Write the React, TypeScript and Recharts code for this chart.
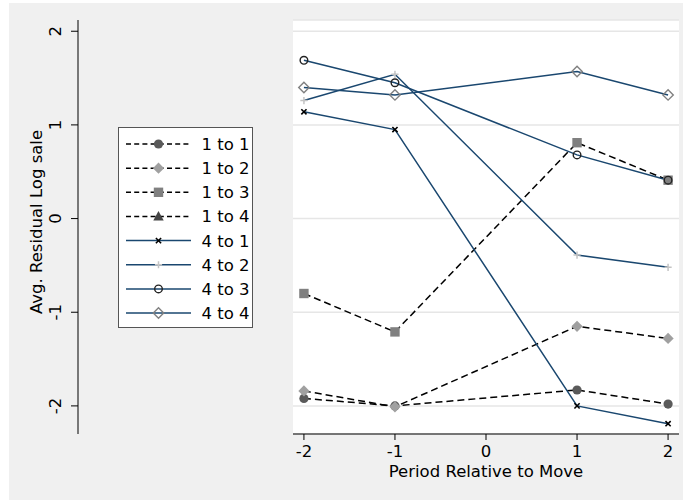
import React from "react"
import { LineChart, Line, XAxis, YAxis, CartesianGrid, Legend } from "recharts"

// Period relative to move (no observation at period 0)
const periods = [-2, -1, 1, 2]
const xTicks = [-2, -1, 0, 1, 2]
const yTicks = [-2, -1, 0, 1, 2]

// Avg. residual log sale by move type
const oneToOne = [-1.92, -2.0, -1.83, -1.98]
const oneToTwo = [-1.84, -2.01, -1.15, -1.28]
const oneToThree = [-0.8, -1.21, 0.81, 0.41]
const oneToFour: (number | null)[] = [null, null, null, null]
const fourToOne = [1.14, 0.95, -2.0, -2.19]
const fourToTwo = [1.26, 1.54, -0.39, -0.52]
const fourToThree = [1.69, 1.45, 0.68, 0.41]
const fourToFour = [1.4, 1.32, 1.57, 1.32]

const FONT = "DejaVu Sans, sans-serif"
const NAVY = "#1a476f"

type Marker = "circle" | "diamond" | "square" | "triangle" | "x" | "plus" | "ocircle" | "odiamond"

const series: { key: string; name: string; values: (number | null)[]; dashed: boolean; marker: Marker; color: string }[] = [
  { key: "s11", name: "1 to 1", values: oneToOne, dashed: true, marker: "circle", color: "#5a5a5a" },
  { key: "s12", name: "1 to 2", values: oneToTwo, dashed: true, marker: "diamond", color: "#a0a0a0" },
  { key: "s13", name: "1 to 3", values: oneToThree, dashed: true, marker: "square", color: "#808080" },
  { key: "s14", name: "1 to 4", values: oneToFour, dashed: true, marker: "triangle", color: "#444444" },
  { key: "s41", name: "4 to 1", values: fourToOne, dashed: false, marker: "x", color: "#000000" },
  { key: "s42", name: "4 to 2", values: fourToTwo, dashed: false, marker: "plus", color: "#c4c4c4" },
  { key: "s43", name: "4 to 3", values: fourToThree, dashed: false, marker: "ocircle", color: "#222222" },
  { key: "s44", name: "4 to 4", values: fourToFour, dashed: false, marker: "odiamond", color: "#808080" },
]

const data = periods.map((p, i) => {
  const row: Record<string, number | null> = { period: p }
  series.forEach((s) => {
    row[s.key] = s.values[i]
  })
  return row
})

function drawMarker(marker: Marker, cx: number, cy: number, color: string, key?: string | number) {
  switch (marker) {
    case "circle":
      return <circle key={key} cx={cx} cy={cy} r={4.6} fill={color} />
    case "diamond":
      return (
        <polygon
          key={key}
          points={`${cx},${cy - 5.6} ${cx + 5.6},${cy} ${cx},${cy + 5.6} ${cx - 5.6},${cy}`}
          fill={color}
        />
      )
    case "square":
      return <rect key={key} x={cx - 4.7} y={cy - 4.7} width={9.4} height={9.4} fill={color} />
    case "triangle":
      return (
        <polygon
          key={key}
          points={`${cx},${cy - 5.4} ${cx + 5.2},${cy + 4} ${cx - 5.2},${cy + 4}`}
          fill={color}
        />
      )
    case "x":
      return (
        <path
          key={key}
          d={`M${cx - 2.6},${cy - 2.6}L${cx + 2.6},${cy + 2.6}M${cx - 2.6},${cy + 2.6}L${cx + 2.6},${cy - 2.6}`}
          stroke={color}
          strokeWidth={1.6}
        />
      )
    case "plus":
      return (
        <path
          key={key}
          d={`M${cx - 3.6},${cy}L${cx + 3.6},${cy}M${cx},${cy - 3.6}L${cx},${cy + 3.6}`}
          stroke={color}
          strokeWidth={1.5}
        />
      )
    case "ocircle":
      return <circle key={key} cx={cx} cy={cy} r={3.8} fill="none" stroke={color} strokeWidth={1.4} />
    case "odiamond":
      return (
        <polygon
          key={key}
          points={`${cx},${cy - 5.2} ${cx + 5.2},${cy} ${cx},${cy + 5.2} ${cx - 5.2},${cy}`}
          fill="none"
          stroke={color}
          strokeWidth={1.4}
        />
      )
  }
}

function makeDot(marker: Marker, color: string) {
  return (props: any) => {
    const { cx, cy, index } = props
    if (cx == null || cy == null) return <g key={`e-${index}`} />
    return drawMarker(marker, cx, cy, color, `d-${index}`)
  }
}

function LegendBox() {
  const rowH = 24.15
  return (
    <div
      style={{
        width: 133,
        height: 199,
        background: "#fff",
        border: "1px solid #555",
        boxSizing: "content-box",
      }}
    >
      <svg width={133} height={199}>
        {series.map((s, i) => {
          const cy = 16 + i * rowH
          return (
            <g key={s.key}>
              <line
                x1={7}
                x2={72}
                y1={cy}
                y2={cy}
                stroke={s.dashed ? "#000" : NAVY}
                strokeWidth={1.5}
                strokeDasharray={s.dashed ? "5 3.2" : undefined}
              />
              {drawMarker(s.marker, 39.5, cy, s.color)}
              <text x={82.5} y={cy + 6} fontSize={16.5} fontFamily={FONT} fill="#000">
                {s.name}
              </text>
            </g>
          )
        })}
      </svg>
    </div>
  )
}

function RotatedTick({ x, y, payload }: any) {
  const bx = x - 7.5
  return (
    <text
      x={bx}
      y={y}
      transform={`rotate(-90 ${bx} ${y})`}
      textAnchor="middle"
      fontSize={16.5}
      fontFamily={FONT}
      fill="#000"
    >
      {payload.value}
    </text>
  )
}

const Y_DOMAIN: [number, number] = [-2.3, 2.12]

export default function App() {
  return (
    <div style={{ position: "absolute", left: 0, top: 0, width: 683, height: 500, background: "#fff" }}>
      <div style={{ position: "absolute", left: 9, top: 3, width: 674, height: 497, background: "#f0f0f0" }} />

      {/* detached y axis, drawn as its own chart */}
      <div style={{ position: "absolute", left: 0, top: 0 }}>
        <LineChart width={100} height={500} data={data} margin={{ top: 20, right: 0, bottom: 66, left: 0 }}>
          <XAxis dataKey="period" type="number" hide domain={[-2.12, 2.12]} />
          <YAxis
            type="number"
            domain={Y_DOMAIN}
            ticks={yTicks}
            allowDataOverflow
            width={78}
            tickSize={7}
            tickMargin={2}
            axisLine={{ stroke: "#000", strokeWidth: 1 }}
            tickLine={{ stroke: "#000", strokeWidth: 1 }}
            tick={<RotatedTick />}
            label={{
              content: ({ viewBox }: any) => {
                const lx = viewBox.x + 42
                const ly = viewBox.y + viewBox.height / 2 - 5
                return (
                  <text
                    x={lx}
                    y={ly}
                    transform={`rotate(-90 ${lx} ${ly})`}
                    textAnchor="middle"
                    fontSize={16.5}
                    fontFamily={FONT}
                    fill="#000"
                  >
                    Avg. Residual Log sale
                  </text>
                )
              },
            }}
          />
        </LineChart>
      </div>

      <div style={{ position: "absolute", left: 0, top: 0 }}>
        <LineChart width={683} height={500} data={data} margin={{ top: 20, right: 4, bottom: 0, left: 293 }}>
          <CartesianGrid vertical={false} stroke="#e6e6e6" strokeWidth={1.5} fill="#ffffff" fillOpacity={1} />
          <XAxis
            dataKey="period"
            type="number"
            domain={[-2.12, 2.12]}
            ticks={xTicks}
            allowDataOverflow
            height={66}
            tickSize={6}
            tickMargin={5}
            axisLine={{ stroke: "#000", strokeWidth: 1 }}
            tickLine={{ stroke: "#000", strokeWidth: 1 }}
            tick={{ fontSize: 16.5, fill: "#000", fontFamily: FONT }}
            label={{
              value: "Period Relative to Move",
              position: "insideTop",
              offset: 31,
              fontSize: 16.5,
              fill: "#000",
              fontFamily: FONT,
            }}
          />
          <YAxis hide type="number" domain={Y_DOMAIN} ticks={yTicks} allowDataOverflow />
          {series.map((s) => (
            <Line
              key={s.key}
              dataKey={s.key}
              name={s.name}
              type="linear"
              stroke={s.dashed ? "#000" : NAVY}
              strokeWidth={1.5}
              strokeDasharray={s.dashed ? "7 4" : undefined}
              dot={makeDot(s.marker, s.color)}
              activeDot={false}
              isAnimationActive={false}
            />
          ))}
          <Legend
            layout="horizontal"
            verticalAlign="middle"
            align="center"
            wrapperStyle={{ left: 118, top: 127, width: 135, height: 201 }}
            content={() => <LegendBox />}
          />
        </LineChart>
      </div>
    </div>
  )
}
